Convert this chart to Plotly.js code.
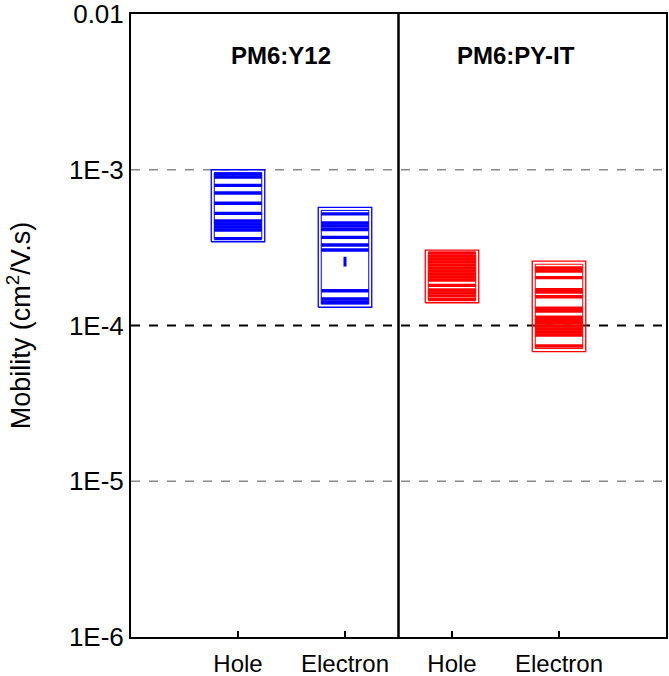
<!DOCTYPE html>
<html>
<head>
<meta charset="utf-8">
<script src="https://cdn.plot.ly/plotly-3.0.1.min.js"></script>
<style>
  html, body { margin: 0; padding: 0; background: #fff; }
  #chart { width: 669px; height: 676px; }
</style>
</head>
<body>
<div id="chart"></div>
<script>
// Category positions on the x axis and their labels
const categories = ['Hole', 'Electron', 'Hole', 'Electron'];
const xPos = [1, 2, 3, 4];
const blendNames = ['PM6:Y12', 'PM6:PY-IT'];

// Individual device mobilities (cm^2/V.s)
const holeY12 = [9.39e-4, 8.98e-4, 7.94e-4, 7.09e-4, 6.10e-4, 5.25e-4,
                 4.69e-4, 4.48e-4, 4.29e-4, 4.10e-4, 3.61e-4];
const electronY12 = [5.21e-4, 4.55e-4, 4.35e-4, 4.13e-4, 3.68e-4, 3.29e-4,
                     3.05e-4, 1.67e-4, 1.48e-4, 1.41e-4];
const holePYIT = [2.92e-4, 2.79e-4, 2.67e-4, 2.56e-4, 2.45e-4, 2.34e-4,
                  2.24e-4, 2.14e-4, 2.05e-4, 1.96e-4, 1.81e-4, 1.69e-4,
                  1.62e-4, 1.55e-4, 1.47e-4];
const electronPYIT = [2.34e-4, 2.24e-4, 2.03e-4, 1.70e-4, 1.64e-4, 1.53e-4,
                      1.29e-4, 1.24e-4, 1.13e-4, 1.08e-4, 1.04e-4, 9.93e-5,
                      9.50e-5, 9.08e-5, 8.69e-5, 7.38e-5];

// Box extents per category
const boxTop = [1.0e-3, 5.74e-4, 3.05e-4, 2.59e-4];
const boxBottom = [3.45e-4, 1.31e-4, 1.40e-4, 6.79e-5];

// Mean marker visible for the PM6:Y12 electron box
const meanElectronY12 = 2.57e-4;

const groups = [holeY12, electronY12, holePYIT, electronPYIT];
const colors = ['#0000FF', '#0000FF', '#FF0000', '#FF0000'];

const traces = [];

function rectTrace(cx, half, lo, hi, color, width) {
  return {
    type: 'scatter', mode: 'lines', hoverinfo: 'skip', showlegend: false,
    x: [cx - half, cx + half, cx + half, cx - half, cx - half],
    y: [lo, lo, hi, hi, lo],
    line: { color: color, width: width }
  };
}

groups.forEach((vals, i) => {
  const cx = xPos[i];
  // outer box
  traces.push(rectTrace(cx, 0.25, boxBottom[i], boxTop[i], colors[i], 1.3));
  // inner box
  const pad = Math.pow(10, 0.02);
  traces.push(rectTrace(cx, 0.222, boxBottom[i] * pad, boxTop[i] / pad, colors[i], 1));
  // data points as horizontal dashes
  traces.push({
    type: 'scatter', mode: 'markers', showlegend: false,
    x: vals.map(() => cx), y: vals,
    marker: { symbol: 'line-ew', size: 34, color: colors[i],
              line: { color: colors[i], width: 3.4 } }
  });
});

traces.push({
  type: 'scatter', mode: 'markers', showlegend: false,
  x: [xPos[1]], y: [meanElectronY12],
  marker: { symbol: 'line-ns', size: 7, color: colors[1],
            line: { color: colors[1], width: 3 } }
});

const layout = {
  width: 669, height: 676,
  margin: { l: 131, r: 3, t: 14, b: 39 },
  paper_bgcolor: '#fff', plot_bgcolor: '#fff',
  font: { family: 'Liberation Sans, Arial, sans-serif', color: '#000' },
  xaxis: {
    range: [0, 5], tickvals: xPos, ticktext: categories,
    ticks: 'inside', ticklen: 6, tickwidth: 2, tickcolor: '#000',
    showgrid: false, zeroline: false,
    showline: true, linecolor: '#000', linewidth: 2, mirror: true,
    tickfont: { size: 24 }, ticklabelstandoff: 4, ticklabeloverflow: 'allow'
  },
  yaxis: {
    type: 'log', range: [-6, -2],
    tickvals: [1e-6, 1e-5, 1e-4, 1e-3, 1e-2],
    ticktext: ['1E-6', '1E-5', '1E-4', '1E-3', '0.01'],
    ticks: '', showgrid: false, zeroline: false,
    showline: true, linecolor: '#000', linewidth: 2, mirror: true,
    tickfont: { size: 26 }, ticklabeloverflow: 'allow',
    title: { text: 'Mobility (cm<sup>2</sup>/V.s)', font: { size: 27 }, standoff: 30 }
  },
  shapes: [
    { type: 'line', xref: 'paper', yref: 'y', x0: 0, x1: 1, y0: 1e-3, y1: 1e-3,
      layer: 'below', line: { color: '#8a8a8a', width: 1.5, dash: 'dash' } },
    { type: 'line', xref: 'paper', yref: 'y', x0: 0, x1: 1, y0: 1e-5, y1: 1e-5,
      layer: 'below', line: { color: '#8a8a8a', width: 1.5, dash: 'dash' } },
    { type: 'line', xref: 'paper', yref: 'y', x0: 0, x1: 1, y0: 1e-4, y1: 1e-4,
      layer: 'below', line: { color: '#000', width: 2, dash: 'dash' } },
    { type: 'line', xref: 'x', yref: 'paper', x0: 2.5, x1: 2.5, y0: 0, y1: 1,
      line: { color: '#000', width: 2.5 } }
  ],
  annotations: [
    { text: '<b>' + blendNames[0] + '</b>', xref: 'paper', yref: 'paper',
      x: 0.28, y: 0.934, xanchor: 'center', yanchor: 'middle',
      showarrow: false, font: { size: 24 } },
    { text: '<b>' + blendNames[1] + '</b>', xref: 'paper', yref: 'paper',
      x: 0.72, y: 0.934, xanchor: 'center', yanchor: 'middle',
      showarrow: false, font: { size: 24 } }
  ]
};

Plotly.newPlot('chart', traces, layout, { displayModeBar: false, staticPlot: true });
</script>
</body>
</html>
